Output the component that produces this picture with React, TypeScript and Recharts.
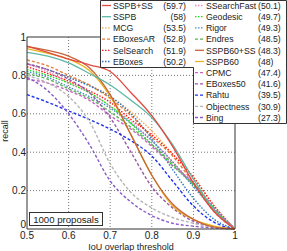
import { LineChart, Line, XAxis, YAxis, CartesianGrid, ReferenceLine } from "recharts";

const iou = [0.5, 0.55, 0.6, 0.65, 0.7, 0.75, 0.8, 0.85, 0.9, 0.95, 1];

const sspbSS = [0.953, 0.92, 0.885, 0.855, 0.82, 0.71, 0.59, 0.43, 0.24, 0.09, 0];
const sspb = [0.92, 0.9, 0.865, 0.81, 0.75, 0.67, 0.58, 0.44, 0.26, 0.1, 0];
const mcg = [0.86, 0.83, 0.79, 0.75, 0.69, 0.61, 0.51, 0.39, 0.27, 0.12, 0];
const eboxesAR = [0.88, 0.85, 0.8, 0.75, 0.68, 0.59, 0.48, 0.38, 0.24, 0.09, 0];
const selSearch = [0.845, 0.81, 0.77, 0.72, 0.66, 0.57, 0.49, 0.39, 0.27, 0.12, 0];
const eboxes = [0.86, 0.83, 0.79, 0.745, 0.69, 0.6, 0.47, 0.31, 0.16, 0.05, 0];
const ssFast = [0.86, 0.82, 0.76, 0.71, 0.64, 0.56, 0.46, 0.35, 0.23, 0.1, 0];
const geodesic = [0.83, 0.8, 0.76, 0.71, 0.64, 0.55, 0.44, 0.33, 0.23, 0.11, 0];
const rigor = [0.82, 0.79, 0.74, 0.69, 0.63, 0.55, 0.46, 0.35, 0.22, 0.1, 0];
const endres = [0.81, 0.78, 0.73, 0.68, 0.61, 0.53, 0.44, 0.34, 0.23, 0.1, 0];
const sspb60SS = [0.95, 0.93, 0.9, 0.84, 0.7, 0.49, 0.28, 0.13, 0.05, 0.01, 0];
const sspb60 = [0.94, 0.915, 0.885, 0.825, 0.69, 0.49, 0.28, 0.12, 0.05, 0.015, 0];
const cpmc = [0.78, 0.76, 0.72, 0.67, 0.59, 0.52, 0.43, 0.33, 0.24, 0.11, 0];
const eboxes50 = [0.86, 0.83, 0.78, 0.71, 0.58, 0.4, 0.22, 0.11, 0.04, 0.01, 0];
const rahtu = [0.7, 0.66, 0.615, 0.57, 0.52, 0.46, 0.38, 0.25, 0.12, 0.035, 0];
const objectness = [0.8, 0.76, 0.69, 0.56, 0.34, 0.19, 0.11, 0.06, 0.03, 0.01, 0];
const bing = [0.79, 0.72, 0.6, 0.44, 0.25, 0.14, 0.07, 0.03, 0.015, 0.005, 0];

const xTicks = [0.5, 0.6, 0.7, 0.8, 0.9, 1];
const yTicks = [0, 0.2, 0.4, 0.6, 0.8, 1];

type Method = {
  key: string;
  name: string;
  score: string;
  values: number[];
  color: string;
  dash: string;
  solid?: boolean;
};

const DASHED = "3 2";
const DOTTED = "1.5 1.5";

const leftMethods: Method[] = [
  { key: "sspbSS", name: "SSPB+SS", score: "(59.7)", values: sspbSS, color: "#e4483e", dash: "", solid: true },
  { key: "sspb", name: "SSPB", score: "(58)", values: sspb, color: "#5db7a5", dash: "", solid: true },
  { key: "mcg", name: "MCG", score: "(53.5)", values: mcg, color: "#f2a956", dash: DOTTED },
  { key: "eboxesAR", name: "EBoxesAR", score: "(52.8)", values: eboxesAR, color: "#e2803e", dash: DASHED },
  { key: "selSearch", name: "SelSearch", score: "(51.9)", values: selSearch, color: "#ff1c1c", dash: DOTTED },
  { key: "eboxes", name: "EBoxes", score: "(50.2)", values: eboxes, color: "#2f76c8", dash: DOTTED },
];

const rightMethods: Method[] = [
  { key: "ssFast", name: "SSearchFast", score: "(50.1)", values: ssFast, color: "#f38ac0", dash: DOTTED },
  { key: "geodesic", name: "Geodesic", score: "(49.7)", values: geodesic, color: "#1ee01e", dash: DOTTED },
  { key: "rigor", name: "Rigor", score: "(49.3)", values: rigor, color: "#4a8cc0", dash: DOTTED },
  { key: "endres", name: "Endres", score: "(48.5)", values: endres, color: "#5cb05c", dash: DASHED },
  { key: "sspb60SS", name: "SSPB60+SS", score: "(48.3)", values: sspb60SS, color: "#c8643a", dash: "", solid: true },
  { key: "sspb60", name: "SSPB60", score: "(48)", values: sspb60, color: "#e8b51e", dash: "", solid: true },
  { key: "cpmc", name: "CPMC", score: "(47.4)", values: cpmc, color: "#c766c4", dash: DASHED },
  { key: "eboxes50", name: "EBoxes50", score: "(41.6)", values: eboxes50, color: "#9a56a8", dash: DASHED },
  { key: "rahtu", name: "Rahtu", score: "(39.5)", values: rahtu, color: "#1f32f0", dash: DASHED },
  { key: "objectness", name: "Objectness", score: "(30.9)", values: objectness, color: "#b4b4b4", dash: DASHED },
  { key: "bing", name: "Bing", score: "(27.3)", values: bing, color: "#8a5cc8", dash: DASHED },
];

const methods = [...leftMethods, ...rightMethods];

const data = iou.map((t, i) => {
  const row: Record<string, number> = { t };
  methods.forEach((m) => {
    row[m.key] = m.values[i];
  });
  return row;
});

const FONT = "'Liberation Sans', Arial, Helvetica, sans-serif";
const ROW = 11.2;

function LegendRows({ items, x, scoreX, anchor }: { items: Method[]; x: number; scoreX: number; anchor: "start" | "end" }) {
  return (
    <>
      {items.map((m, i) => {
        const cy = 5.5 + i * ROW;
        return (
          <g key={m.key}>
            <line
              x1={x}
              x2={x + 9}
              y1={cy}
              y2={cy}
              stroke={m.color}
              strokeWidth={1.3}
              strokeDasharray={m.dash || undefined}
            />
            <text x={x + 11} y={cy + 3.2} fontSize={8.7} fill="#222">
              {m.name}
            </text>
            <text x={scoreX} y={cy + 3.2} fontSize={8.7} fill="#222" textAnchor={anchor}>
              {m.score}
            </text>
          </g>
        );
      })}
    </>
  );
}

// y tick: the "0" sits a bit higher so it does not run into the "0.5" below it
function YTick(props: any) {
  const { x, y, payload } = props;
  const shift = payload.value === 0 ? -4.5 : 0;
  return (
    <text x={x} y={y + shift} dy="0.355em" textAnchor="end" fontSize={10} fill="#222" fontFamily={FONT}>
      {String(payload.value)}
    </text>
  );
}

export default function App() {
  const ordered = [...methods.filter((m) => !m.solid), ...methods.filter((m) => m.solid).reverse()];
  return (
    <div style={{ position: "absolute", left: 0, top: 0, width: 287, height: 251, background: "#fff", fontFamily: FONT }}>
      <LineChart width={287} height={251} data={data} margin={{ top: 37, right: 52, bottom: 0, left: 0 }}>
        <CartesianGrid
          stroke="#555"
          strokeDasharray="1 2"
          strokeWidth={0.8}
          verticalValues={[0.6, 0.7, 0.8, 0.9]}
          horizontalValues={[0.2, 0.4, 0.6, 0.8]}
        />
        <XAxis
          dataKey="t"
          type="number"
          domain={[0.5, 1]}
          ticks={xTicks}
          tickFormatter={(v) => String(v)}
          height={22}
          tickLine={false}
          tickSize={1}
          tickMargin={1.5}
          stroke="#333"
          tick={{ fill: "#222", fontSize: 10, fontFamily: FONT }}
          label={{ value: "IoU overlap threshold", position: "insideBottom", offset: 1, fontSize: 9, fill: "#222", fontFamily: FONT }}
        />
        <YAxis
          type="number"
          domain={[0, 1]}
          ticks={yTicks}
          width={27}
          tickLine={false}
          tickSize={1}
          tickMargin={0}
          stroke="#333"
          tick={<YTick />}
          label={{
            content: () => (
              <text x={8} y={131} transform="rotate(-90, 8, 131)" textAnchor="middle" fontSize={9} fill="#222" fontFamily={FONT}>
                recall
              </text>
            ),
          }}
        />
        <ReferenceLine y={1} stroke="#333" strokeWidth={1} ifOverflow="visible" />
        <ReferenceLine x={1} stroke="#333" strokeWidth={1} ifOverflow="visible" />
        {ordered.map((m) => (
          <Line
            key={m.key}
            type="monotone"
            dataKey={m.key}
            name={m.name}
            stroke={m.color}
            strokeWidth={m.solid ? 1.3 : 1.4}
            strokeDasharray={m.dash || undefined}
            dot={false}
            activeDot={false}
            isAnimationActive={false}
          />
        ))}
      </LineChart>
      <svg
        width={287}
        height={251}
        style={{ position: "absolute", left: 0, top: 0, pointerEvents: "none", fontFamily: FONT }}
      >
        <rect x={29.5} y={212.5} width={73} height={13} fill="#fff" stroke="#333" strokeWidth={1} />
        <text x={66} y={223} fontSize={9.6} fill="#222" textAnchor="middle">
          1000 proposals
        </text>
        <path d="M100.5,0.5 H286.5 V123.5 H193.5 V67.5 H100.5 Z" fill="#fff" stroke="#333" strokeWidth={1} />
        <LegendRows items={leftMethods} x={102} scoreX={186} anchor="end" />
        <LegendRows items={rightMethods} x={195} scoreX={258} anchor="start" />
      </svg>
    </div>
  );
}
